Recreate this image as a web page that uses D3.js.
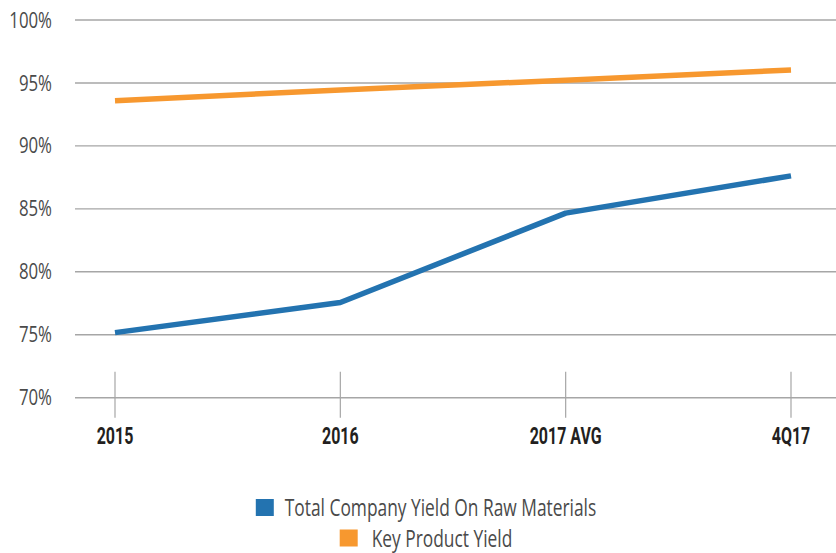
<!DOCTYPE html>
<html>
<head>
<meta charset="utf-8">
<script src="https://cdn.jsdelivr.net/npm/d3@7"></script>
<style>
  body { margin: 0; background: #fff; }
  text { font-family: "Open Sans", "Noto Sans", sans-serif; }
</style>
</head>
<body>
<div id="chart"></div>
<script>
///////// CHART DATA /////////
var categories = ['2015', '2016', '2017 AVG', '4Q17'];

// yield values in percent, one per category
var totalCompanyYield = [75.17, 77.56, 84.66, 87.62],
    keyProductYield = [93.59, 94.44, 95.22, 96.03];

var yTicks = [70, 75, 80, 85, 90, 95, 100];

var seriesNames = ['Total Company Yield On Raw Materials', 'Key Product Yield'],
    seriesColors = ['#2373b0', '#f7982f'];
//////////////////////////////

var width = 836,
    height = 553;

// none of the installed faces is condensed, so text gets squeezed sideways
var squeezeBody = 0.8,
    squeezeLegend = 0.755,
    squeezeBold = 0.68;

var svg = d3.select('#chart')
  .append('svg')
    .attr('width', width)
    .attr('height', height);

var x = d3.scalePoint()
    .domain(categories)
    .range([115, 791]);

var y = d3.scaleLinear()
    .domain([70, 100])
    .range([397.7, 20]);

// horizontal grid lines, the 70% one doubles as the x baseline
svg.append('g')
  .selectAll('line')
  .data(yTicks)
  .enter()
    .append('line')
      .attr('x1', 75)
      .attr('x2', width)
      .attr('y1', function(d) { return y(d); })
      .attr('y2', function(d) { return y(d); })
      .style('stroke', '#a6a6a6')
      .style('stroke-width', 1.4);

// y labels
svg.append('g')
  .selectAll('text')
  .data(yTicks)
  .enter()
    .append('text')
      .attr('transform', function(d) {
        return 'translate(52,' + y(d) + ') scale(' + squeezeBody + ',1)';
      })
      .attr('dy', '0.36em')
      .attr('text-anchor', 'end')
      .style('font-size', '21px')
      .style('fill', '#4a4a4a')
      .text(function(d) { return d + '%'; });

// category ticks crossing the baseline
svg.append('g')
  .selectAll('line')
  .data(categories)
  .enter()
    .append('line')
      .attr('x1', function(d) { return x(d); })
      .attr('x2', function(d) { return x(d); })
      .attr('y1', y(70) - 26)
      .attr('y2', y(70) + 20)
      .style('stroke', '#a6a6a6')
      .style('stroke-width', 1.2);

// category labels
svg.append('g')
  .selectAll('text')
  .data(categories)
  .enter()
    .append('text')
      .attr('transform', function(d) {
        return 'translate(' + x(d) + ',444) scale(' + squeezeBold + ',1)';
      })
      .attr('text-anchor', 'middle')
      .style('font-family', 'Roboto, sans-serif')
      .style('font-size', '23.5px')
      .style('font-weight', 'bold')
      .style('fill', '#231f20')
      .text(function(d) { return d; });

var line = d3.line()
    .x(function(d, i) { return x(categories[i]); })
    .y(function(d) { return y(d); });

[totalCompanyYield, keyProductYield].forEach(function(values, i) {
  svg.append('path')
    .datum(values)
    .attr('d', line)
    .style('fill', 'none')
    .style('stroke', seriesColors[i])
    .style('stroke-width', 5.5)
    .style('stroke-linejoin', 'round');
});

// legend, one centred row per series
var legendRowY = [516, 546.5],
    legendGap = [29, 32],
    legendCenter = 426;

seriesNames.forEach(function(name, i) {
  var row = svg.append('g');
  row.append('rect')
    .attr('x', 0)
    .attr('y', legendRowY[i] - 17)
    .attr('width', 18)
    .attr('height', 17)
    .style('fill', seriesColors[i]);
  var label = row.append('text')
    .attr('transform', 'translate(' + legendGap[i] + ',' + legendRowY[i] + ') scale(' + squeezeLegend + ',1)')
    .style('font-size', '23px')
    .style('fill', '#4a4a4a')
    .text(name);
  var rowWidth = legendGap[i] + label.node().getComputedTextLength() * squeezeLegend;
  row.attr('transform', 'translate(' + (legendCenter - rowWidth / 2) + ',0)');
});
</script>
</body>
</html>
